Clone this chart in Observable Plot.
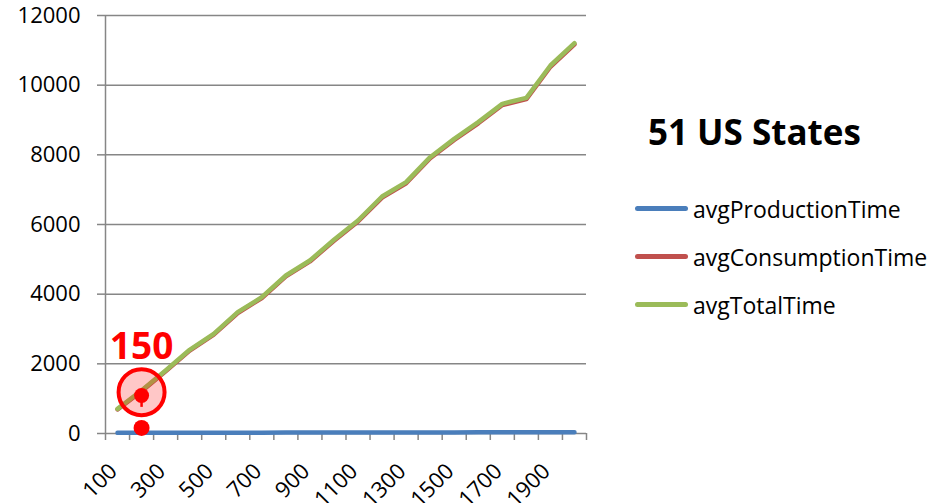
<!DOCTYPE html>
<html>
<head>
<meta charset="utf-8">
<script src="https://cdn.jsdelivr.net/npm/d3@7"></script>
<script src="https://cdn.jsdelivr.net/npm/@observablehq/plot@0.6"></script>
<style>
  html, body { margin: 0; padding: 0; background: #fff; }
  #wrap { position: relative; width: 948px; height: 503px; overflow: hidden; font-family: "Open Sans", sans-serif; }
  #title { position: absolute; left: 648px; top: 114px; font-size: 35px; line-height: 35px; font-weight: bold; color: #000; white-space: nowrap; }
  .lg-line { position: absolute; left: 635px; width: 53px; height: 4.5px; border-radius: 3px; }
  .lg-text { position: absolute; left: 693px; font-size: 23px; line-height: 24px; color: #000; white-space: nowrap; }
</style>
</head>
<body>
<div id="wrap"></div>
<script>
// ---- data ----
const categories = [100, 200, 300, 400, 500, 600, 700, 800, 900, 1000, 1100, 1200, 1300, 1400, 1500, 1600, 1700, 1800, 1900, 2000];
const avgProductionTime = [18, 19, 20, 22, 23, 24, 25, 26, 27, 28, 29, 30, 31, 31, 32, 33, 34, 35, 36, 37];
const avgConsumptionTime = [690, 1215, 1789, 2380, 2838, 3459, 3889, 4510, 4940, 5532, 6086, 6774, 7184, 7902, 8427, 8905, 9430, 9601, 10529, 11169];
const avgTotalTime = [708, 1234, 1809, 2402, 2861, 3483, 3914, 4536, 4967, 5560, 6115, 6804, 7215, 7933, 8459, 8938, 9464, 9636, 10565, 11206];
const yTicks = [0, 2000, 4000, 6000, 8000, 10000, 12000];
const xLabels = [100, 300, 500, 700, 900, 1100, 1300, 1500, 1700, 1900];
const seriesNames = ["avgProductionTime", "avgConsumptionTime", "avgTotalTime"];
const seriesColors = ["#4A7EBB", "#C0504D", "#9BBB59"];
const chartTitle = "51 US States";
const annotation = [{x: 200, ring: 1185, dot: 1090, stem: 750, low: 160, label: "150"}];

// category boundaries (axis tick positions between categories)
const boundaries = [50, ...categories.map(c => c + 50)];
const seriesValues = [avgProductionTime, avgConsumptionTime, avgTotalTime];
const gray = "#868686";

const plot = Plot.plot({
  width: 948,
  height: 503,
  marginLeft: 105,
  marginRight: 362,
  marginTop: 15,
  marginBottom: 70,
  x: {type: "linear", domain: [50, 2050]},
  y: {domain: [0, 12000]},
  style: {fontFamily: "'Open Sans', sans-serif", background: "transparent", color: "#000"},
  marks: [
    Plot.gridY(yTicks, {stroke: gray, strokeOpacity: 1, strokeWidth: 1.5}),
    Plot.ruleX([50], {stroke: gray, strokeWidth: 1.5}),
    Plot.axisY(yTicks, {tickSize: 8, tickPadding: 17, fontSize: 22, stroke: gray, strokeWidth: 1.5, fill: "#000", label: null, tickFormat: d => String(d)}),
    Plot.axisX(boundaries, {tickSize: 7, tickFormat: () => "", stroke: gray, strokeWidth: 1.5, label: null}),
    Plot.text(xLabels, {x: d => d, frameAnchor: "bottom", text: d => String(d), rotate: -45, textAnchor: "end", dx: 1, dy: 39, fontSize: 22, fill: "#000"}),
    ...seriesValues.map((vals, k) =>
      Plot.line(categories, {x: d => d, y: (d, i) => vals[i], stroke: seriesColors[k], strokeWidth: 4.5, strokeLinecap: "round", strokeLinejoin: "round"})
    ),
    Plot.dot(annotation, {x: "x", y: "ring", r: 23, stroke: "#FF0000", strokeWidth: 4, fill: "rgba(255,0,0,0.22)"}),
    Plot.ruleX(annotation, {x: "x", y1: "dot", y2: "stem", stroke: "#FF0000", strokeWidth: 2.5}),
    Plot.dot(annotation, {x: "x", y: "dot", r: 7.5, fill: "#FF0000"}),
    Plot.dot(annotation, {x: "x", y: "low", r: 8, fill: "#FF0000"}),
    Plot.text(annotation, {x: "x", y: "ring", text: "label", dy: -45, fontSize: 37, fontWeight: "bold", fill: "#FF0000"})
  ]
});

const wrap = document.getElementById("wrap");
wrap.appendChild(plot);
plot.style.position = "absolute";
plot.style.left = "0px";
plot.style.top = "0px";

const t = document.createElement("div");
t.id = "title";
t.textContent = chartTitle;
wrap.appendChild(t);

seriesNames.forEach((name, i) => {
  const l = document.createElement("div");
  l.className = "lg-line";
  l.style.top = (206 + 48 * i) + "px";
  l.style.background = seriesColors[i];
  wrap.appendChild(l);
  const tx = document.createElement("div");
  tx.className = "lg-text";
  tx.style.top = (197 + 48 * i) + "px";
  tx.textContent = name;
  wrap.appendChild(tx);
});
</script>
</body>
</html>
